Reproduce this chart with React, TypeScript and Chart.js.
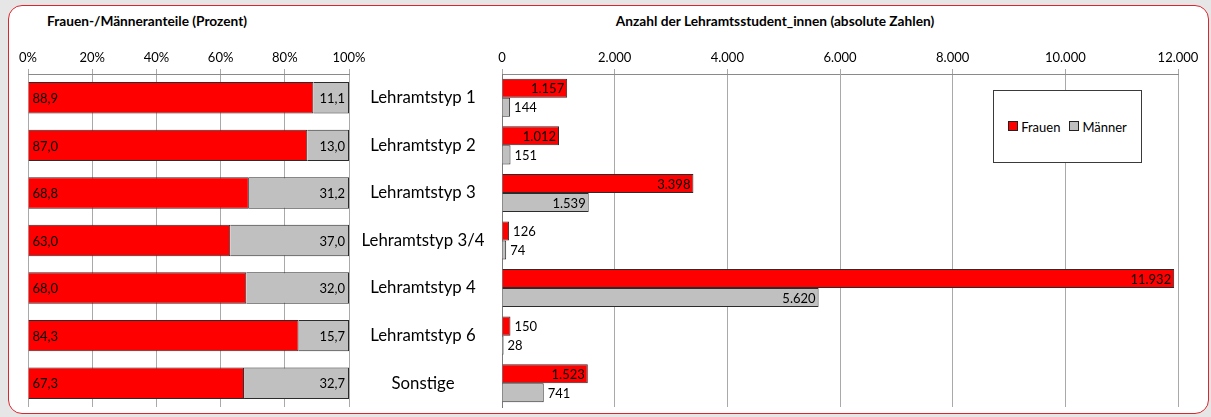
import React, { useEffect, useRef } from 'react';
import { Chart, registerables } from 'chart.js';

Chart.register(...registerables);

const categories = ['Lehramtstyp 1', 'Lehramtstyp 2', 'Lehramtstyp 3', 'Lehramtstyp 3/4', 'Lehramtstyp 4', 'Lehramtstyp 6', 'Sonstige'];
const shareWomen = [88.9, 87.0, 68.8, 63.0, 68.0, 84.3, 67.3];
const shareMen = [11.1, 13.0, 31.2, 37.0, 32.0, 15.7, 32.7];
const countWomen = [1157, 1012, 3398, 126, 11932, 150, 1523];
const countMen = [144, 151, 1539, 74, 5620, 28, 741];
const seriesNames = ['Frauen', 'Männer'];
const leftTitle = 'Frauen-/Männeranteile (Prozent)';
const rightTitle = 'Anzahl der Lehramtsstudent_innen (absolute Zahlen)';

const FONT = 'Lato, "Open Sans", sans-serif';
const RED = '#ff0000';
const GREY = '#c0c0c0';
const GRID = '#a9a9a9';
const BAR_BORDER = '#2b2b2b';

const fmtCount = (v: number) => String(v).replace(/\B(?=(\d{3})+(?!\d))/g, '.');
const fmtShare = (v: number) => v.toFixed(1).replace('.', ',');

const makeLabelPlugin = (mode: 'share' | 'count') => ({
  id: 'barLabels_' + mode,
  afterDatasetsDraw(chart: any) {
    const ctx = chart.ctx;
    ctx.save();
    ctx.font = `13px ${FONT}`;
    ctx.fillStyle = '#000';
    ctx.textBaseline = 'middle';
    chart.data.datasets.forEach((ds: any, di: number) => {
      const meta = chart.getDatasetMeta(di);
      meta.data.forEach((el: any, i: number) => {
        const v = ds.data[i] as number;
        const { x, y, base } = el.getProps(['x', 'y', 'base'], true);
        let text: string;
        let tx: number;
        let align: CanvasTextAlign;
        if (mode === 'share') {
          text = fmtShare(v);
          if (di === 0) { align = 'left'; tx = base + 4; } else { align = 'right'; tx = x - 4; }
        } else {
          text = fmtCount(v);
          if (v >= 1000) { align = 'right'; tx = x - 3; } else { align = 'left'; tx = x + 4; }
        }
        ctx.textAlign = align;
        ctx.fillText(text, tx, y + 1);
      });
    });
    ctx.restore();
  },
});

export default function App() {
  const leftRef = useRef<HTMLCanvasElement>(null);
  const rightRef = useRef<HTMLCanvasElement>(null);

  useEffect(() => {
    const mctx = document.createElement('canvas').getContext('2d')!;
    mctx.font = `16.8px ${FONT}`;
    const widest = Math.max(...categories.map((c) => mctx.measureText(c).width));
    const catPadding = Math.max(2, 79 - widest / 2);

    const xTickFont = { family: FONT, size: 13 };

    const left = new Chart(leftRef.current!, {
      type: 'bar',
      data: {
        labels: categories,
        datasets: [
          { label: seriesNames[0], data: shareWomen, backgroundColor: RED, borderColor: BAR_BORDER, borderWidth: 1 },
          { label: seriesNames[1], data: shareMen, backgroundColor: GREY, borderColor: BAR_BORDER, borderWidth: 1 },
        ],
      },
      options: {
        indexAxis: 'y',
        responsive: false,
        animation: false,
        layout: { padding: { left: 28, right: 31, top: 0, bottom: 10 } },
        datasets: { bar: { categoryPercentage: 1, barPercentage: 0.66 } },
        plugins: { legend: { display: false }, tooltip: { enabled: false } },
        scales: {
          x: {
            position: 'top',
            stacked: true,
            min: 0,
            max: 100,
            ticks: { stepSize: 20, color: '#000', font: xTickFont, padding: 3, callback: (v: any) => v + '%' },
            grid: { color: GRID, tickLength: 5 },
            border: { color: '#8a8a8a' },
            afterFit: (s: any) => { s.height = 44; },
          },
          y: { stacked: true, display: false },
        },
      } as any,
      plugins: [makeLabelPlugin('share')],
    });

    const right = new Chart(rightRef.current!, {
      type: 'bar',
      data: {
        labels: categories,
        datasets: [
          { label: seriesNames[0], data: countWomen, backgroundColor: RED, borderColor: BAR_BORDER, borderWidth: 1 },
          { label: seriesNames[1], data: countMen, backgroundColor: GREY, borderColor: BAR_BORDER, borderWidth: 1 },
        ],
      },
      options: {
        indexAxis: 'y',
        responsive: false,
        animation: false,
        layout: { padding: { left: 0, right: 33, top: 0, bottom: 10 } },
        datasets: { bar: { categoryPercentage: 0.8, barPercentage: 1 } },
        plugins: { legend: { display: false }, tooltip: { enabled: false } },
        scales: {
          x: {
            position: 'top',
            min: 0,
            max: 12000,
            ticks: { stepSize: 2000, color: '#000', font: xTickFont, padding: 3, callback: (v: any) => fmtCount(Number(v)) },
            grid: { color: GRID, tickLength: 5 },
            border: { color: '#8a8a8a' },
            afterFit: (s: any) => { s.height = 44; },
          },
          y: {
            position: 'left',
            grid: { display: false, drawTicks: false },
            border: { display: true, color: '#7a7a7a' },
            ticks: { color: '#000', font: { family: FONT, size: 16.8 }, crossAlign: 'center', padding: catPadding },
            afterFit: (s: any) => {
              s.width = 142;
              s.paddingTop = 0;
              s.paddingBottom = 0;
            },
          },
        },
      } as any,
      plugins: [makeLabelPlugin('count')],
    });

    return () => {
      left.destroy();
      right.destroy();
    };
  }, []);

  const sq = (color: string) => ({
    display: 'inline-block',
    width: 8,
    height: 8,
    background: color,
    border: '1px solid #222',
    marginRight: 3,
    verticalAlign: 'middle',
    position: 'relative' as const,
    top: -1,
  });

  return (
    <div style={{ position: 'absolute', left: 0, top: 0, width: 1211, height: 417, background: '#e6e6e6', overflow: 'hidden', fontFamily: FONT }}>
      <div style={{ position: 'absolute', left: 8, top: 5, width: 1199, height: 407, background: '#fff', border: '1.5px solid #d9262f', borderRadius: 14 }} />
      <div style={{ position: 'absolute', left: 47, top: 12, fontWeight: 700, fontSize: 13.7, color: '#000', whiteSpace: 'nowrap' }}>{leftTitle}</div>
      <div style={{ position: 'absolute', left: 575, width: 400, top: 12, textAlign: 'center', fontWeight: 700, fontSize: 13.7, color: '#000', whiteSpace: 'nowrap' }}>{rightTitle}</div>
      <canvas ref={leftRef} width={380} height={387} style={{ position: 'absolute', left: 0, top: 30 }} />
      <canvas ref={rightRef} width={851} height={387} style={{ position: 'absolute', left: 360, top: 30 }} />
      <div style={{ position: 'absolute', left: 993, top: 90, width: 147, height: 71, background: '#fff', border: '1px solid #3a3a3a', display: 'flex', alignItems: 'center', justifyContent: 'center', fontSize: 13, color: '#000', whiteSpace: 'nowrap' }}>
        <span style={sq(RED)} />
        <span style={{ marginRight: 9 }}>{seriesNames[0]}</span>
        <span style={sq(GREY)} />
        <span>{seriesNames[1]}</span>
      </div>
    </div>
  );
}
